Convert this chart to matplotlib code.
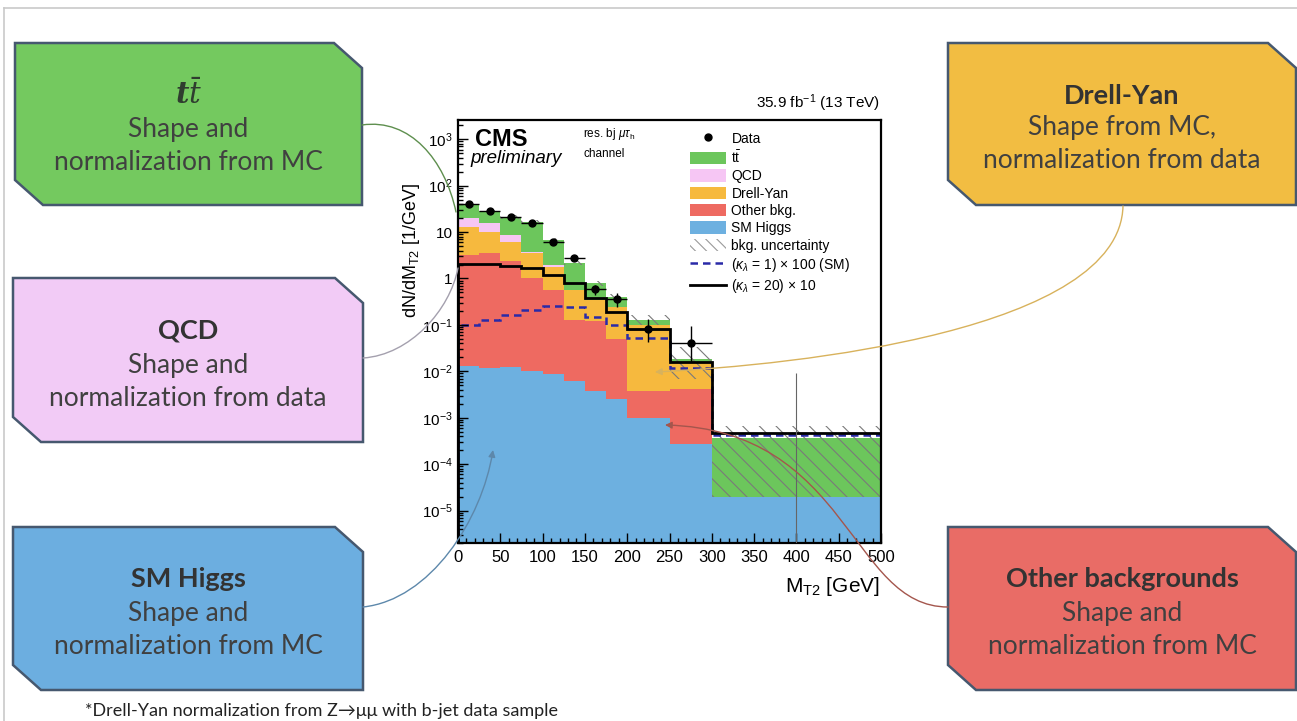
import matplotlib
matplotlib.use("Agg")
import matplotlib.pyplot as plt
import numpy as np
from matplotlib.patches import Polygon, Patch, FancyArrowPatch
from matplotlib.lines import Line2D
from matplotlib.path import Path
from matplotlib.ticker import FixedLocator, FixedFormatter, LogLocator, NullFormatter, MultipleLocator

# M_T2 binning (GeV) and per-bin contents dN/dM_T2 [1/GeV]
edges = [0, 25, 50, 75, 100, 125, 150, 175, 200, 250, 300, 500]
sm_higgs = [0.013, 0.012, 0.0125, 0.010, 0.0086, 0.0061, 0.0037, 0.0025, 0.0010, 0.00027, 0.00002]
other_bkg = [3.2, 3.5, 2.4, 0.99, 0.56, 0.124, 0.116, 0.046, 0.0027, 0.0038, 0.0]
drell_yan = [9.8, 6.5, 3.7, 2.5, 1.2, 0.44, 0.23, 0.2, 0.096, 0.012, 0.0]
qcd = [7.0, 5.6, 2.5, 0.3, 0.18, 0.0, 0.0, 0.0, 0.0, 0.0, 0.0]
ttbar = [18.0, 13.4, 12.4, 12.6, 4.85, 1.58, 0.45, 0.15, 0.025, 0.002, 0.00035]

unc_lo = [35.0, 26.5, 19.2, 15.0, 6.2, 1.95, 0.70, 0.34, 0.10, 0.0067, 0.00002]
unc_hi = [41.0, 31.5, 22.8, 17.8, 7.4, 2.35, 0.90, 0.46, 0.16, 0.033, 0.00065]

data = [40.0, 29.0, 21.0, 15.5, 6.1, 2.75, 0.59, 0.36, 0.082, 0.04, 0.0]
data_err_lo = [1.3, 1.1, 0.9, 0.8, 0.5, 0.33, 0.15, 0.12, 0.04, 0.0245, 0.0]
data_err_hi = [1.3, 1.1, 0.9, 0.8, 0.5, 0.33, 0.15, 0.12, 0.055, 0.054, 0.0092]

kl1_x100 = [0.10, 0.13, 0.165, 0.21, 0.25, 0.24, 0.15, 0.10, 0.052, 0.012, 0.00042]
kl20_x10 = [2.1, 2.05, 1.9, 1.7, 1.2, 0.8, 0.38, 0.19, 0.08, 0.016, 0.00047]

ytick_vals = [1e-5, 1e-4, 1e-3, 1e-2, 1e-1, 1, 10, 1e2, 1e3]
ytick_labels = ["$10^{-5}$", "$10^{-4}$", "$10^{-3}$", "$10^{-2}$", "$10^{-1}$",
                "1", "10", "$10^{2}$", "$10^{3}$"]

# callout boxes: title, two text lines, fill colour
box_titles = [r"$\boldsymbol{t\bar{t}}$", "Drell-Yan", "QCD", "SM Higgs", "Other backgrounds"]
box_line1 = ["Shape and", "Shape from MC,", "Shape and", "Shape and", "Shape and"]
box_line2 = ["normalization from MC", "normalization from data", "normalization from data",
             "normalization from MC", "normalization from MC"]

tt_color = "#6cc65c"
qcd_color = "#f6c6f4"
dy_color = "#f6b93e"
other_color = "#ee6a61"
higgs_color = "#6db0e0"
box_colors = ["#74c95f", "#f2bd42", "#f2cbf6", "#6caee0", "#e96c66"]

W, H = 1297, 721
plt.rcParams["mathtext.fontset"] = "custom"
plt.rcParams["mathtext.rm"] = "Liberation Sans"
plt.rcParams["mathtext.it"] = "Liberation Sans:italic"
plt.rcParams["mathtext.bf"] = "Liberation Sans:bold"
plt.rcParams["hatch.linewidth"] = 0.8
plt.rcParams["font.family"] = ["Liberation Sans", "DejaVu Sans"]

fig = plt.figure(figsize=(W / 100, H / 100), dpi=100)


def ptext(x, y, s, **kw):
    return fig.text(x / W, 1 - y / H, s, **kw)


# ---- the CMS histogram ----
ax = fig.add_axes([458 / W, 1 - 543 / H, 423 / W, 423 / H])
ax.set_yscale("log")
n = len(data)
centers = [(edges[i] + edges[i + 1]) / 2 for i in range(n)]
half = [(edges[i + 1] - edges[i]) / 2 for i in range(n)]

floor = 1e-7
running = np.zeros(n)
for vals, col in [(sm_higgs, higgs_color), (other_bkg, other_color), (drell_yan, dy_color),
                  (qcd, qcd_color), (ttbar, tt_color)]:
    top = running + np.array(vals)
    ax.stairs(top, edges, baseline=np.maximum(running, floor), fill=True, color=col, lw=0)
    running = top

ax.stairs(unc_hi, edges, baseline=unc_lo, fill=True, facecolor="none",
          edgecolor="#7a7a7a", hatch="\\\\", lw=0)

ax.stairs(kl1_x100, edges, color="#2a2aa8", lw=1.8, ls=(0, (3, 2)))
ax.stairs(kl20_x10, edges, color="black", lw=2.0)

nz = [i for i in range(n) if data[i] > 0]
ax.errorbar([centers[i] for i in nz], [data[i] for i in nz],
            xerr=[half[i] for i in nz],
            yerr=[[data_err_lo[i] for i in nz], [data_err_hi[i] for i in nz]],
            fmt="o", color="black", markersize=5, elinewidth=1, capsize=0, zorder=5)
for i in range(n):
    if data[i] == 0:
        ax.vlines(centers[i], floor, data_err_hi[i], color="#666666", lw=0.8, zorder=5)

ax.set_xlim(0, 500)
ax.set_ylim(2e-6, 2.6e3)
ax.yaxis.set_major_locator(FixedLocator(ytick_vals))
ax.yaxis.set_major_formatter(FixedFormatter(ytick_labels))
ax.yaxis.set_minor_locator(LogLocator(base=10, subs=np.arange(2, 10), numticks=30))
ax.yaxis.set_minor_formatter(NullFormatter())
ax.xaxis.set_major_locator(MultipleLocator(50))
ax.xaxis.set_minor_locator(MultipleLocator(10))
ax.tick_params(which="both", direction="in", width=1)
ax.tick_params(which="major", length=7)
ax.tick_params(which="minor", length=3.5)
ax.tick_params(axis="x", labelsize=12, pad=5)
ax.tick_params(axis="y", labelsize=11, pad=4)
for s in ax.spines.values():
    s.set_linewidth(1.6)

handles = [
    Line2D([], [], marker="o", color="black", ls="none", markersize=5),
    Patch(facecolor=tt_color),
    Patch(facecolor=qcd_color),
    Patch(facecolor=dy_color),
    Patch(facecolor=other_color),
    Patch(facecolor=higgs_color),
    Patch(facecolor="none", edgecolor="#9a9a9a", hatch="\\\\\\", lw=0),
    Line2D([], [], color="#2a2aa8", lw=1.8, ls=(0, (3, 2))),
    Line2D([], [], color="black", lw=2.0),
]
labels = ["Data", r"$\mathrm{t\bar{t}}$", "QCD", "Drell-Yan", "Other bkg.", "SM Higgs",
          "bkg. uncertainty", r"($\kappa_{\lambda}$ = 1) × 100 (SM)",
          r"($\kappa_{\lambda}$ = 20) × 10"]
ax.legend(handles, labels, loc="upper left", bbox_to_anchor=(0.548, 0.972), frameon=False,
          fontsize=10, handlelength=2.6, handleheight=1.0, handletextpad=0.4,
          labelspacing=0.24, borderpad=0, borderaxespad=0)

ptext(475, 146, "CMS", fontsize=17, fontweight="bold")
ptext(470, 163, "preliminary", fontsize=13.5, style="italic")
ptext(583, 137, r"res. bj $\mu\tau_{\rm h}$", fontsize=8.5)
ptext(583, 157, "channel", fontsize=8.5)
ptext(880, 108, r"35.9 fb$^{-1}$ (13 TeV)", fontsize=11, ha="right")
ptext(412, 183, r"dN/dM$_{\mathrm{T2}}$ [1/GeV]", fontsize=13, rotation=90, ha="center", va="top")
ptext(880, 592, r"M$_{\mathrm{T2}}$ [GeV]", fontsize=15, ha="right")

# ---- slide overlay: frame, callout boxes, connectors ----
ov = fig.add_axes([0, 0, 1, 1], zorder=10)
ov.set_xlim(0, W)
ov.set_ylim(H, 0)
ov.axis("off")
ov.patch.set_visible(False)

ov.plot([4, W + 5], [8, 8], color="#c9c9c9", lw=1.2)
ov.plot([4, 4], [8, H + 5], color="#c9c9c9", lw=1.2)

boxes = [(15, 362, 43, 205), (948, 1296, 43, 205), (13, 363, 278, 442),
         (13, 363, 527, 690), (948, 1296, 527, 690)]
title_y = [95, 96, 331, 579, 579]
line_gap = [34, 32, 34, 34, 34]
for k, (l, r, t, b) in enumerate(boxes):
    cx, cy = 28, 25
    verts = [(l, t), (r - cx, t), (r, t + cy), (r, b), (l + cx, b), (l, b - cy)]
    ov.add_patch(Polygon(verts, closed=True, facecolor=box_colors[k], edgecolor="#46586f",
                         lw=1.8, joinstyle="miter"))
    xc = (l + r) / 2
    y0 = title_y[k]
    if k == 0:
        ov.text(xc, y0, box_titles[k], fontsize=21, ha="center", va="center",
                color="#2f3d2f", math_fontfamily="dejavuserif")
    else:
        ov.text(xc, y0, box_titles[k], fontsize=19.5, fontweight="bold", ha="center",
                va="center", color="#333333", family="Lato")
    ov.text(xc, y0 + line_gap[k], box_line1[k], fontsize=19, ha="center", va="center",
            color="#404040", family="Lato")
    ov.text(xc, y0 + 2 * line_gap[k], box_line2[k], fontsize=19, ha="center",
            va="center", color="#404040", family="Lato")

connectors = [
    ([(362, 125), (410, 118), (445, 160), (456, 212)], "#5e8f4e", "-"),
    ([(363, 358), (410, 355), (450, 310), (458, 268)], "#a4a0ae", "-"),
    ([(363, 607), (430, 600), (482, 520), (493, 450)], "#5d88ab", "-|>"),
    ([(1123, 206), (1120, 330), (800, 365), (655, 372)], "#d8b25c", "-|>"),
    ([(948, 607), (850, 607), (850, 430), (665, 425)], "#a4564d", "-|>"),
]
for pts, col, style in connectors:
    path = Path(pts, [Path.MOVETO, Path.CURVE4, Path.CURVE4, Path.CURVE4])
    ov.add_patch(FancyArrowPatch(path=path, arrowstyle=style, mutation_scale=10,
                                 color=col, lw=1.0))

ov.text(85, 719, "*Drell-Yan normalization from Z→μμ with b-jet data sample",
        fontsize=13, family="Lato", color="#222222", va="bottom")

fig.savefig("out.png", dpi=100)
